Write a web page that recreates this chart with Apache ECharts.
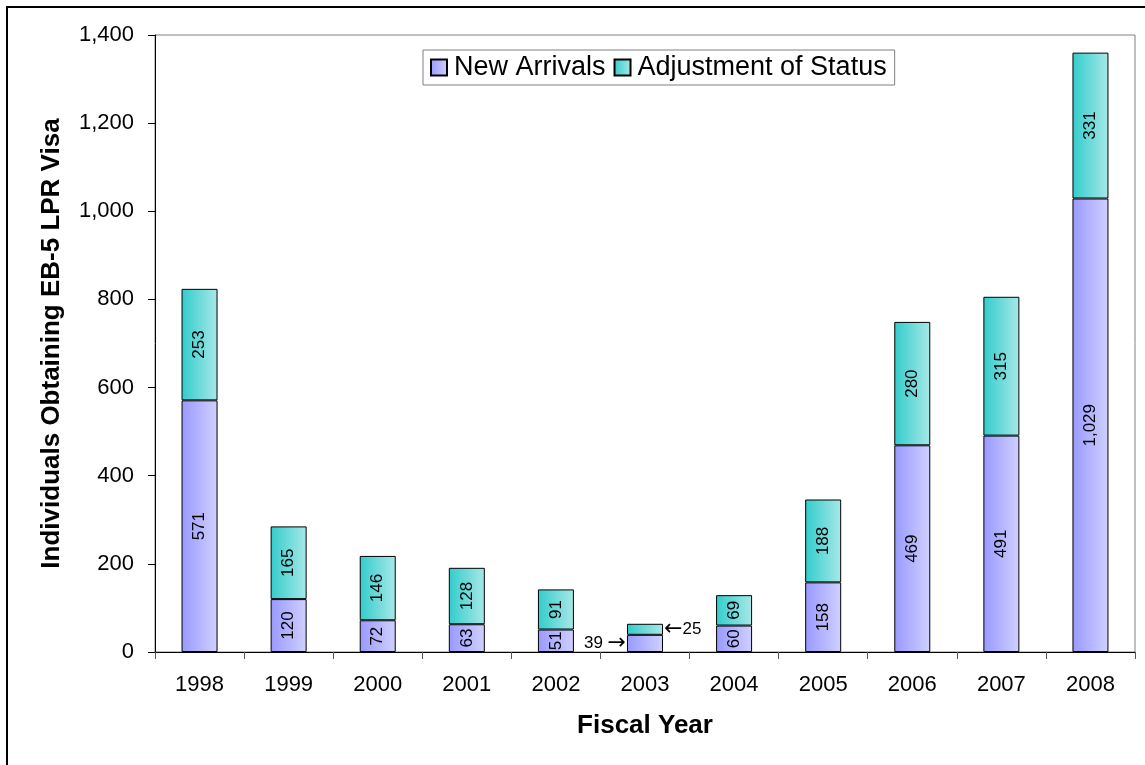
<!DOCTYPE html>
<html>
<head>
<meta charset="utf-8">
<style>
	html,body{
		margin:0;
		padding:0;
		background:#fff;
	}
	#main{
		width:1145px;
		height:765px;
	}
</style>
<script src="https://cdn.jsdelivr.net/npm/echarts@6/dist/echarts.min.js"></script>
</head>
<body>
<div id="main"></div>
<script>
var years = ['1998','1999','2000','2001','2002','2003','2004','2005','2006','2007','2008'];
var newArrivals = [571, 120, 72, 63, 51, 39, 60, 158, 469, 491, 1029];
var adjustment = [253, 165, 146, 128, 91, 25, 69, 188, 280, 315, 331];
var yTicks = [0, 200, 400, 600, 800, 1000, 1200, 1400];
// years whose bars are too short, labels go outside with arrows
var calloutYears = ['2003'];

var fmt = function(v){ return Number(v).toLocaleString('en-US'); };

function grad(c1, c2){
	return new echarts.graphic.LinearGradient(0, 0, 1, 0, [
		{offset: 0, color: c1},
		{offset: 1, color: c2}
	]);
}

function buildData(values, side){
	return values.map(function(v, i){
		if (calloutYears.indexOf(years[i]) < 0) return v;
		return {
			value: v,
			label: {
				position: side,
				rotate: 0,
				distance: 1,
				fontSize: 17,
				formatter: side == 'left' ? fmt(v) + ' {a|\u2192}' : '{a|\u2190}' + fmt(v),
				rich: { a: { fontSize: 22, fontFamily: 'DejaVu Sans', color: '#000' } }
			}
		};
	});
}

var myChart = echarts.init(document.getElementById('main'));
var option = {
	backgroundColor: '#fff',
	animation: false,
	textStyle: { fontFamily: 'Liberation Sans, Arial, sans-serif', color: '#000' },
	graphic: [{
		type: 'rect',
		shape: { x: 7, y: 7, width: 1300, height: 900 },
		style: { fill: 'none', stroke: '#000', lineWidth: 2 },
		silent: true
	}],
	legend: {
		left: 423,
		top: 50,
		padding: [4, 8, 4, 7],
		itemGap: 8,
		itemWidth: 16,
		itemHeight: 16,
		borderColor: '#808080',
		borderWidth: 1,
		borderRadius: 0,
		backgroundColor: '#fff',
		icon: 'rect',
		textStyle: { fontSize: 27, color: '#000', padding: [0, 0, 0, 2] },
		data: ['New Arrivals', 'Adjustment of Status']
	},
	grid: {
		left: 155,
		right: 10,
		top: 35,
		bottom: 113,
		show: true,
		borderColor: '#808080',
		borderWidth: 1
	},
	xAxis: {
		type: 'category',
		data: years,
		name: 'Fiscal Year',
		nameLocation: 'middle',
		nameGap: 61,
		nameTextStyle: { fontSize: 26, fontWeight: 'bold', color: '#000' },
		axisLine: { lineStyle: { color: '#000', width: 1 } },
		axisTick: { show: true, length: 7, lineStyle: { color: '#555' } },
		axisLabel: { fontSize: 22, color: '#000', margin: 22 }
	},
	yAxis: {
		type: 'value',
		min: yTicks[0],
		max: yTicks[yTicks.length - 1],
		interval: 200,
		name: 'Individuals Obtaining EB-5 LPR Visa',
		nameLocation: 'middle',
		nameRotate: 90,
		nameGap: 90,
		nameTextStyle: { fontSize: 26, fontWeight: 'bold', color: '#000' },
		axisLine: { show: true, lineStyle: { color: '#000', width: 1 } },
		axisTick: { show: true, length: 7, lineStyle: { color: '#000' } },
		splitLine: { show: false },
		axisLabel: { fontSize: 22, color: '#000', margin: 21, formatter: fmt }
	},
	series: [
	{
		name: 'New Arrivals',
		type: 'bar',
		stack: 'total',
		barWidth: 36,
		itemStyle: {
			color: grad('#9999ff', '#d0d0ff'),
			borderColor: '#000',
			borderWidth: 1
		},
		label: {
			show: true,
			position: 'inside',
			rotate: 90,
			fontSize: 17,
			color: '#000',
			formatter: function(p){ return fmt(p.value); }
		},
		data: buildData(newArrivals, 'left')
	},
	{
		name: 'Adjustment of Status',
		type: 'bar',
		stack: 'total',
		barWidth: 36,
		itemStyle: {
			color: grad('#33cccc', '#a8e8e8'),
			borderColor: '#000',
			borderWidth: 1
		},
		label: {
			show: true,
			position: 'inside',
			rotate: 90,
			fontSize: 17,
			color: '#000',
			formatter: function(p){ return fmt(p.value); }
		},
		data: buildData(adjustment, 'right')
	}
	]
};
myChart.setOption(option);
</script>
</body>
</html>
